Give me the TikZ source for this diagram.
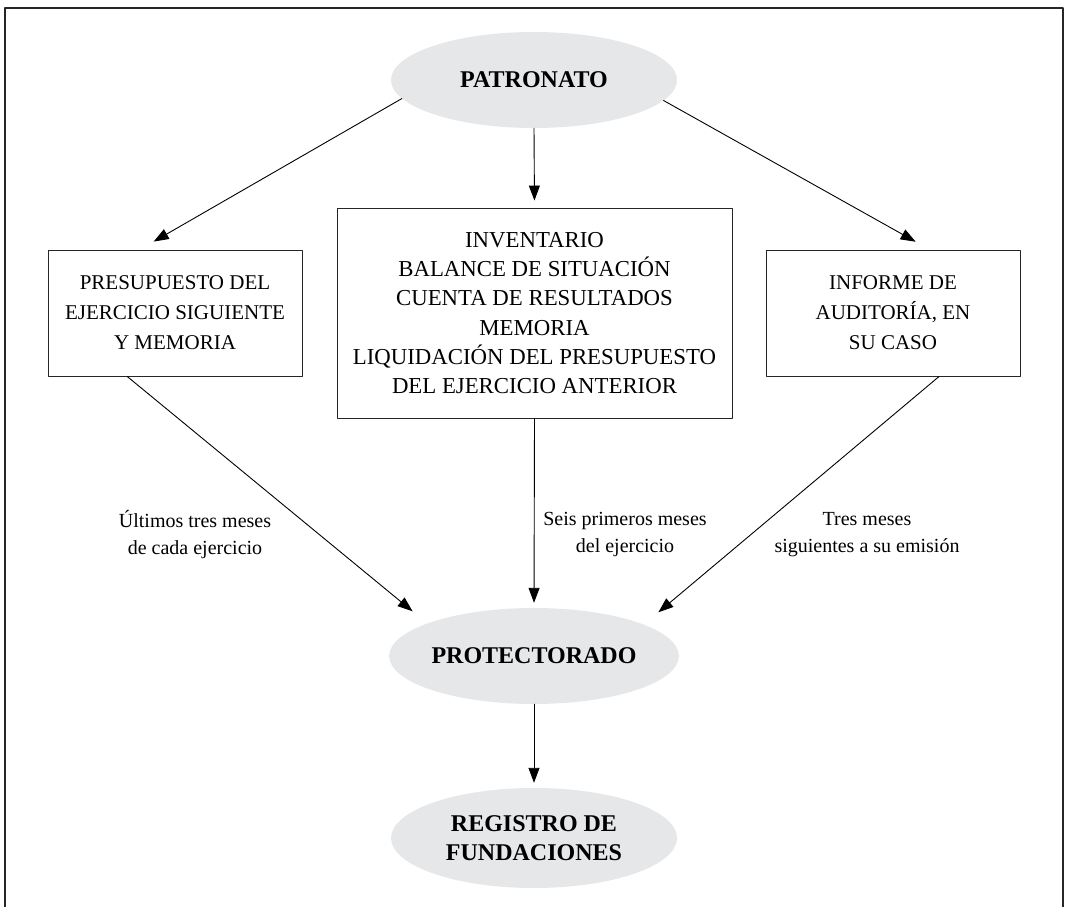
\documentclass[tikz,border=0pt]{standalone}
\usepackage{fontspec}
\setmainfont{Liberation Serif}
\usetikzlibrary{arrows.meta, shapes.geometric}
\definecolor{ovalgray}{HTML}{E6E7E8}
\begin{document}
\begin{tikzpicture}[x=1pt, y=-1pt, line cap=round, line join=round,
  oval/.style={ellipse, fill=ovalgray, minimum width=286pt, minimum height=96pt,
    inner sep=0pt, align=center, font=\fontsize{24}{29}\selectfont\bfseries},
  caja/.style={draw=black!85, line width=0.9pt, align=center, inner sep=0pt,
    font=\fontsize{21}{30}\selectfont},
  nota/.style={align=center, font=\fontsize{20}{27}\selectfont},
  flecha/.style={line width=0.9pt, -{Triangle[length=15pt, width=11pt]}}]
\useasboundingbox (0,0) rectangle (1065,907);
\draw[line width=1.6pt, black!85] (5,907) -- (5,8) -- (1063,8) -- (1063,907);
% elipses
\node[oval] (patronato) at (534,80) {PATRONATO};
\node[oval] (protectorado) at (534,656) {PROTECTORADO};
\node[oval, minimum height=100pt] (registro) at (534,838) {REGISTRO DE\\FUNDACIONES};
% cajas
\node[caja, minimum width=254pt, minimum height=126pt] (presupuesto) at (175,313)
  {PRESUPUESTO DEL\\EJERCICIO SIGUIENTE\\Y MEMORIA};
\node[caja, minimum width=395pt, minimum height=210pt,
  font=\fontsize{22.8}{29.3}\selectfont] (cuentas) at (534.5,313)
  {INVENTARIO\\BALANCE DE SITUACIÓN\\CUENTA DE RESULTADOS\\MEMORIA\\LIQUIDACIÓN DEL PRESUPUESTO\\DEL EJERCICIO ANTERIOR};
\node[caja, minimum width=254pt, minimum height=126pt] (auditoria) at (893,313)
  {INFORME DE\\AUDITORÍA, EN\\SU CASO};
% plazos
\node[nota] (plazo1) at (195,535) {Últimos tres meses\\de cada ejercicio};
\node[nota] (plazo2) at (625,535) {Seis primeros meses\\del ejercicio};
\node[nota] (plazo3) at (867,535) {Tres meses\\siguientes a su emisión};
% flechas
\draw[flecha, shorten >=16pt] (patronato.188.6) -- (presupuesto.119.6);
\draw[flecha, shorten >=7pt] (patronato.south) -- (cuentas.north);
\draw[flecha, shorten >=16pt] (patronato.351.4) -- (auditoria.60.4);
\draw[flecha, shorten >=19pt] (presupuesto.233.3) -- (protectorado.163.3);
\draw[flecha, shorten >=5pt] (cuentas.south) -- (protectorado.north);
\draw[flecha, shorten >=19pt] (auditoria.306.7) -- (protectorado.16.7);
\draw[flecha, shorten >=5pt] (protectorado.south) -- (registro.north);
\end{tikzpicture}
\end{document}
